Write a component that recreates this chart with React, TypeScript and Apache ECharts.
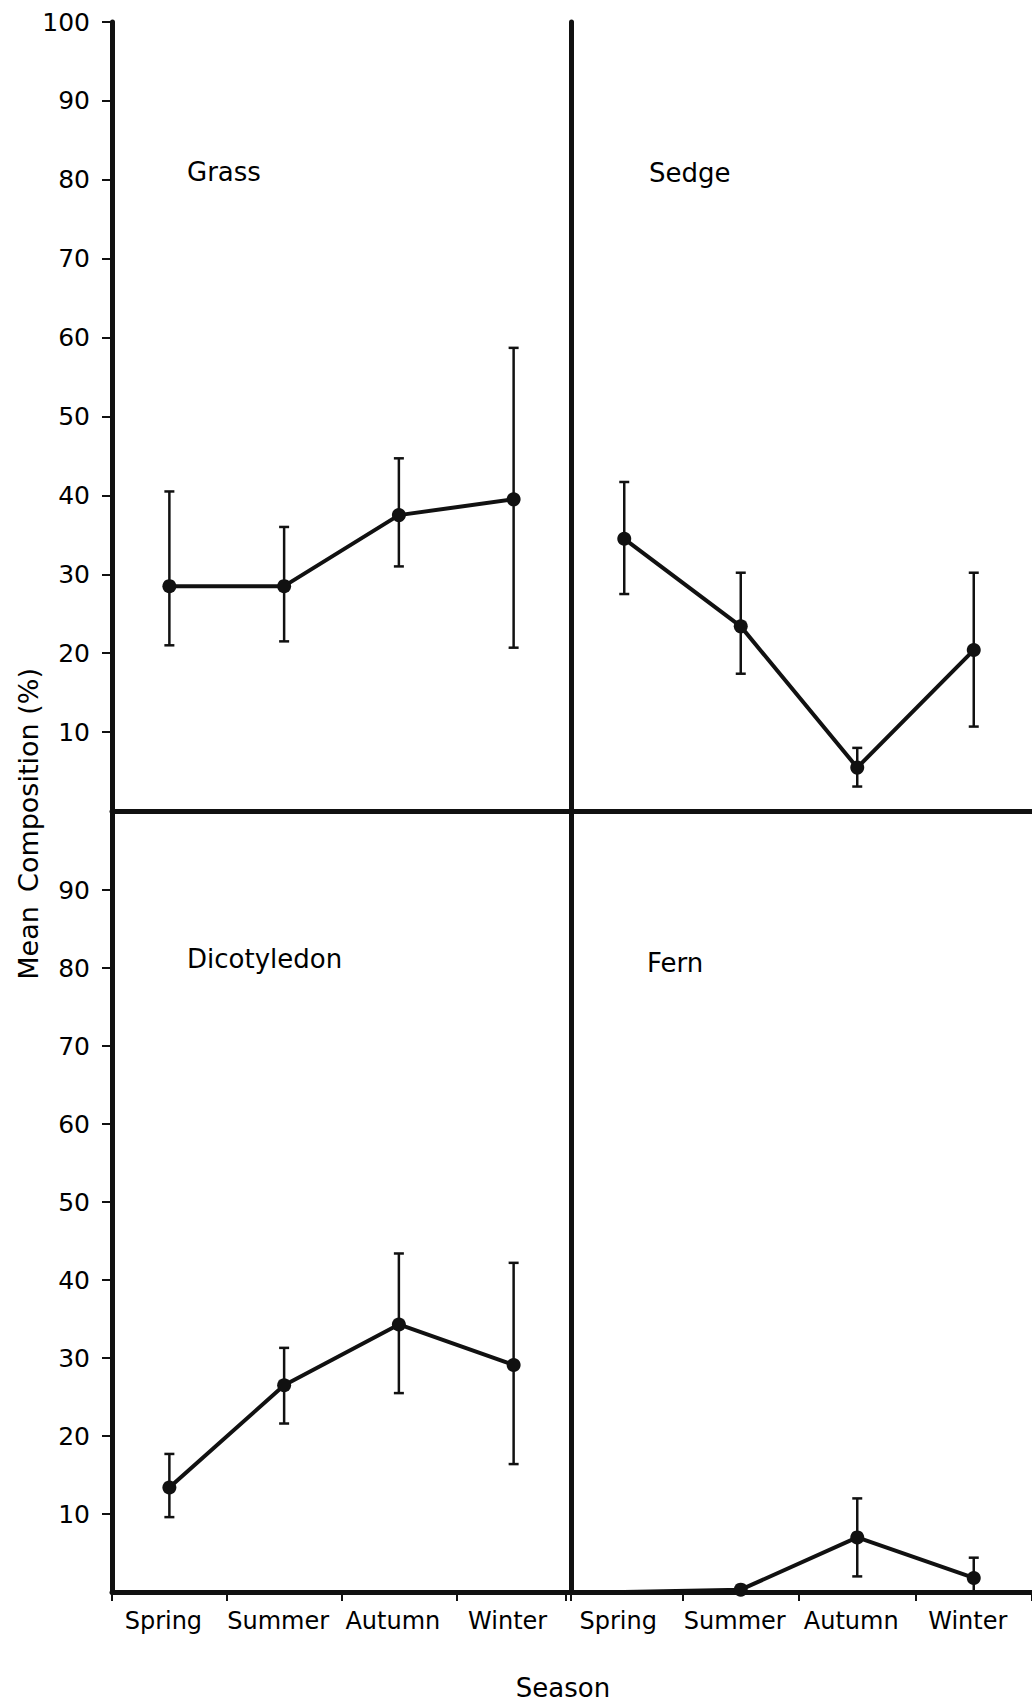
import React, { useEffect, useRef } from "react";
import * as echarts from "echarts";

const seasons = ["Spring", "Summer", "Autumn", "Winter"];

const grassMean = [28.5, 28.5, 37.5, 39.5];
const grassLow = [21, 21.5, 31, 20.7];
const grassHigh = [40.5, 36, 44.7, 58.7];

const sedgeMean = [34.5, 23.4, 5.5, 20.4];
const sedgeLow = [27.5, 17.4, 3.1, 10.7];
const sedgeHigh = [41.7, 30.2, 8.0, 30.2];

const dicotMean = [13.4, 26.5, 34.3, 29.1];
const dicotLow = [9.6, 21.6, 25.5, 16.4];
const dicotHigh = [17.7, 31.3, 43.4, 42.2];

const fernMean = [0, 0.3, 7.0, 1.8];
const fernLow = [0, 0.3, 2.0, 0];
const fernHigh = [0, 0.3, 12.0, 4.4];

const upperTicks = [10, 20, 30, 40, 50, 60, 70, 80, 90, 100];
const lowerTicks = [10, 20, 30, 40, 50, 60, 70, 80, 90];

const panelNames = ["Grass", "Sedge", "Dicotyledon", "Fern"];

const INK = "#111";
const FONT = "DejaVu Sans";

export default function App() {
  const ref = useRef<HTMLDivElement>(null);

  useEffect(() => {
    document.body.style.margin = "0";
    if (!ref.current) return;
    const chart = echarts.init(ref.current, undefined, { renderer: "svg" });

    const panels = [
      { mean: grassMean, low: grassLow, high: grassHigh },
      { mean: sedgeMean, low: sedgeLow, high: sedgeHigh },
      { mean: dicotMean, low: dicotLow, high: dicotHigh },
      { mean: fernMean, low: fernLow, high: fernHigh },
    ];

    const grids = [
      { left: 112, top: 22, width: 459, height: 789 },
      { left: 566, top: 22, width: 466, height: 789 },
      { left: 112, top: 812, width: 459, height: 780 },
      { left: 566, top: 812, width: 466, height: 780 },
    ];

    const xAxes = grids.map((_, i) => {
      const bottom = i >= 2;
      return {
        type: "category",
        gridIndex: i,
        data: seasons,
        boundaryGap: true,
        axisLine: { show: true, lineStyle: { color: INK, width: 5 } },
        axisTick: {
          show: bottom,
          length: 9,
          lineStyle: { color: INK, width: 2 },
        },
        axisLabel: {
          show: bottom,
          interval: 0,
          hideOverlap: false,
          color: "#000",
          fontFamily: FONT,
          fontSize: 24,
          margin: 17,
          padding: [0, 12, 0, 0],
        },
        splitLine: { show: false },
      };
    });

    const yAxes = grids.map((_, i) => {
      const left = i % 2 === 0;
      const ticks = i < 2 ? upperTicks : lowerTicks;
      return {
        type: "value",
        gridIndex: i,
        min: 0,
        max: 100,
        interval: 10,
        offset: left ? 0 : -5,
        axisLine: { show: true, lineStyle: { color: INK, width: 5 } },
        axisTick: {
          show: left,
          length: 10,
          customValues: ticks,
          lineStyle: { color: INK, width: 2 },
        },
        axisLabel: {
          show: left,
          customValues: ticks,
          color: "#000",
          fontFamily: FONT,
          fontSize: 25,
          margin: 22,
        },
        splitLine: { show: false },
      };
    });

    const series: any[] = [];
    panels.forEach((p, i) => {
      series.push({
        type: "custom",
        xAxisIndex: i,
        yAxisIndex: i,
        z: 2,
        data: seasons.map((_, k) => [k, p.low[k], p.high[k]]),
        encode: { x: 0, y: [1, 2] },
        renderItem: (params: any, api: any) => {
          const x = api.value(0);
          const lo = api.value(1);
          const hi = api.value(2);
          if (hi - lo < 0.05) return null;
          const top = api.coord([x, hi]);
          const bot = api.coord([x, lo]);
          const w = 5;
          const st = { stroke: INK, lineWidth: 2.5 };
          return {
            type: "group",
            children: [
              { type: "line", shape: { x1: top[0], y1: top[1], x2: bot[0], y2: bot[1] }, style: st },
              { type: "line", shape: { x1: top[0] - w, y1: top[1], x2: top[0] + w, y2: top[1] }, style: st },
              { type: "line", shape: { x1: bot[0] - w, y1: bot[1], x2: bot[0] + w, y2: bot[1] }, style: st },
            ],
          };
        },
      });
      series.push({
        type: "line",
        xAxisIndex: i,
        yAxisIndex: i,
        z: 3,
        data: p.mean.map((v, k) =>
          i === 3 && k === 0 ? { value: v, symbol: "none" } : v
        ),
        symbol: "circle",
        symbolSize: 14,
        lineStyle: { color: INK, width: 4 },
        itemStyle: { color: INK },
      });
    });

    const titlePos = [
      [187, 172],
      [649, 173],
      [187, 959],
      [647, 963],
    ];

    const graphic: any[] = panelNames.map((name, i) => ({
      type: "text",
      x: titlePos[i][0],
      y: titlePos[i][1],
      style: {
        text: name,
        fill: "#000",
        font: `26px "${FONT}"`,
        align: "left",
        textAlign: "left",
        verticalAlign: "middle",
        textVerticalAlign: "middle",
      },
    }));

    graphic.push(
      {
        type: "text",
        x: 28,
        y: 780,
        rotation: Math.PI / 2,
        style: {
          text: "Composition (%)",
          fill: "#000",
          font: `27px "${FONT}"`,
          align: "center",
          textAlign: "center",
          verticalAlign: "middle",
          textVerticalAlign: "middle",
        },
      },
      {
        type: "text",
        x: 28,
        y: 943,
        rotation: Math.PI / 2,
        style: {
          text: "Mean",
          fill: "#000",
          font: `27px "${FONT}"`,
          align: "center",
          textAlign: "center",
          verticalAlign: "middle",
          textVerticalAlign: "middle",
        },
      },
      {
        type: "text",
        x: 563,
        y: 1688,
        style: {
          text: "Season",
          fill: "#000",
          font: `26px "${FONT}"`,
          align: "center",
          textAlign: "center",
          verticalAlign: "middle",
          textVerticalAlign: "middle",
        },
      }
    );

    chart.setOption({
      animation: false,
      backgroundColor: "#fff",
      grid: grids,
      xAxis: xAxes,
      yAxis: yAxes,
      series,
      graphic,
    });

    return () => chart.dispose();
  }, []);

  return <div ref={ref} style={{ width: 1032, height: 1705 }} />;
}
